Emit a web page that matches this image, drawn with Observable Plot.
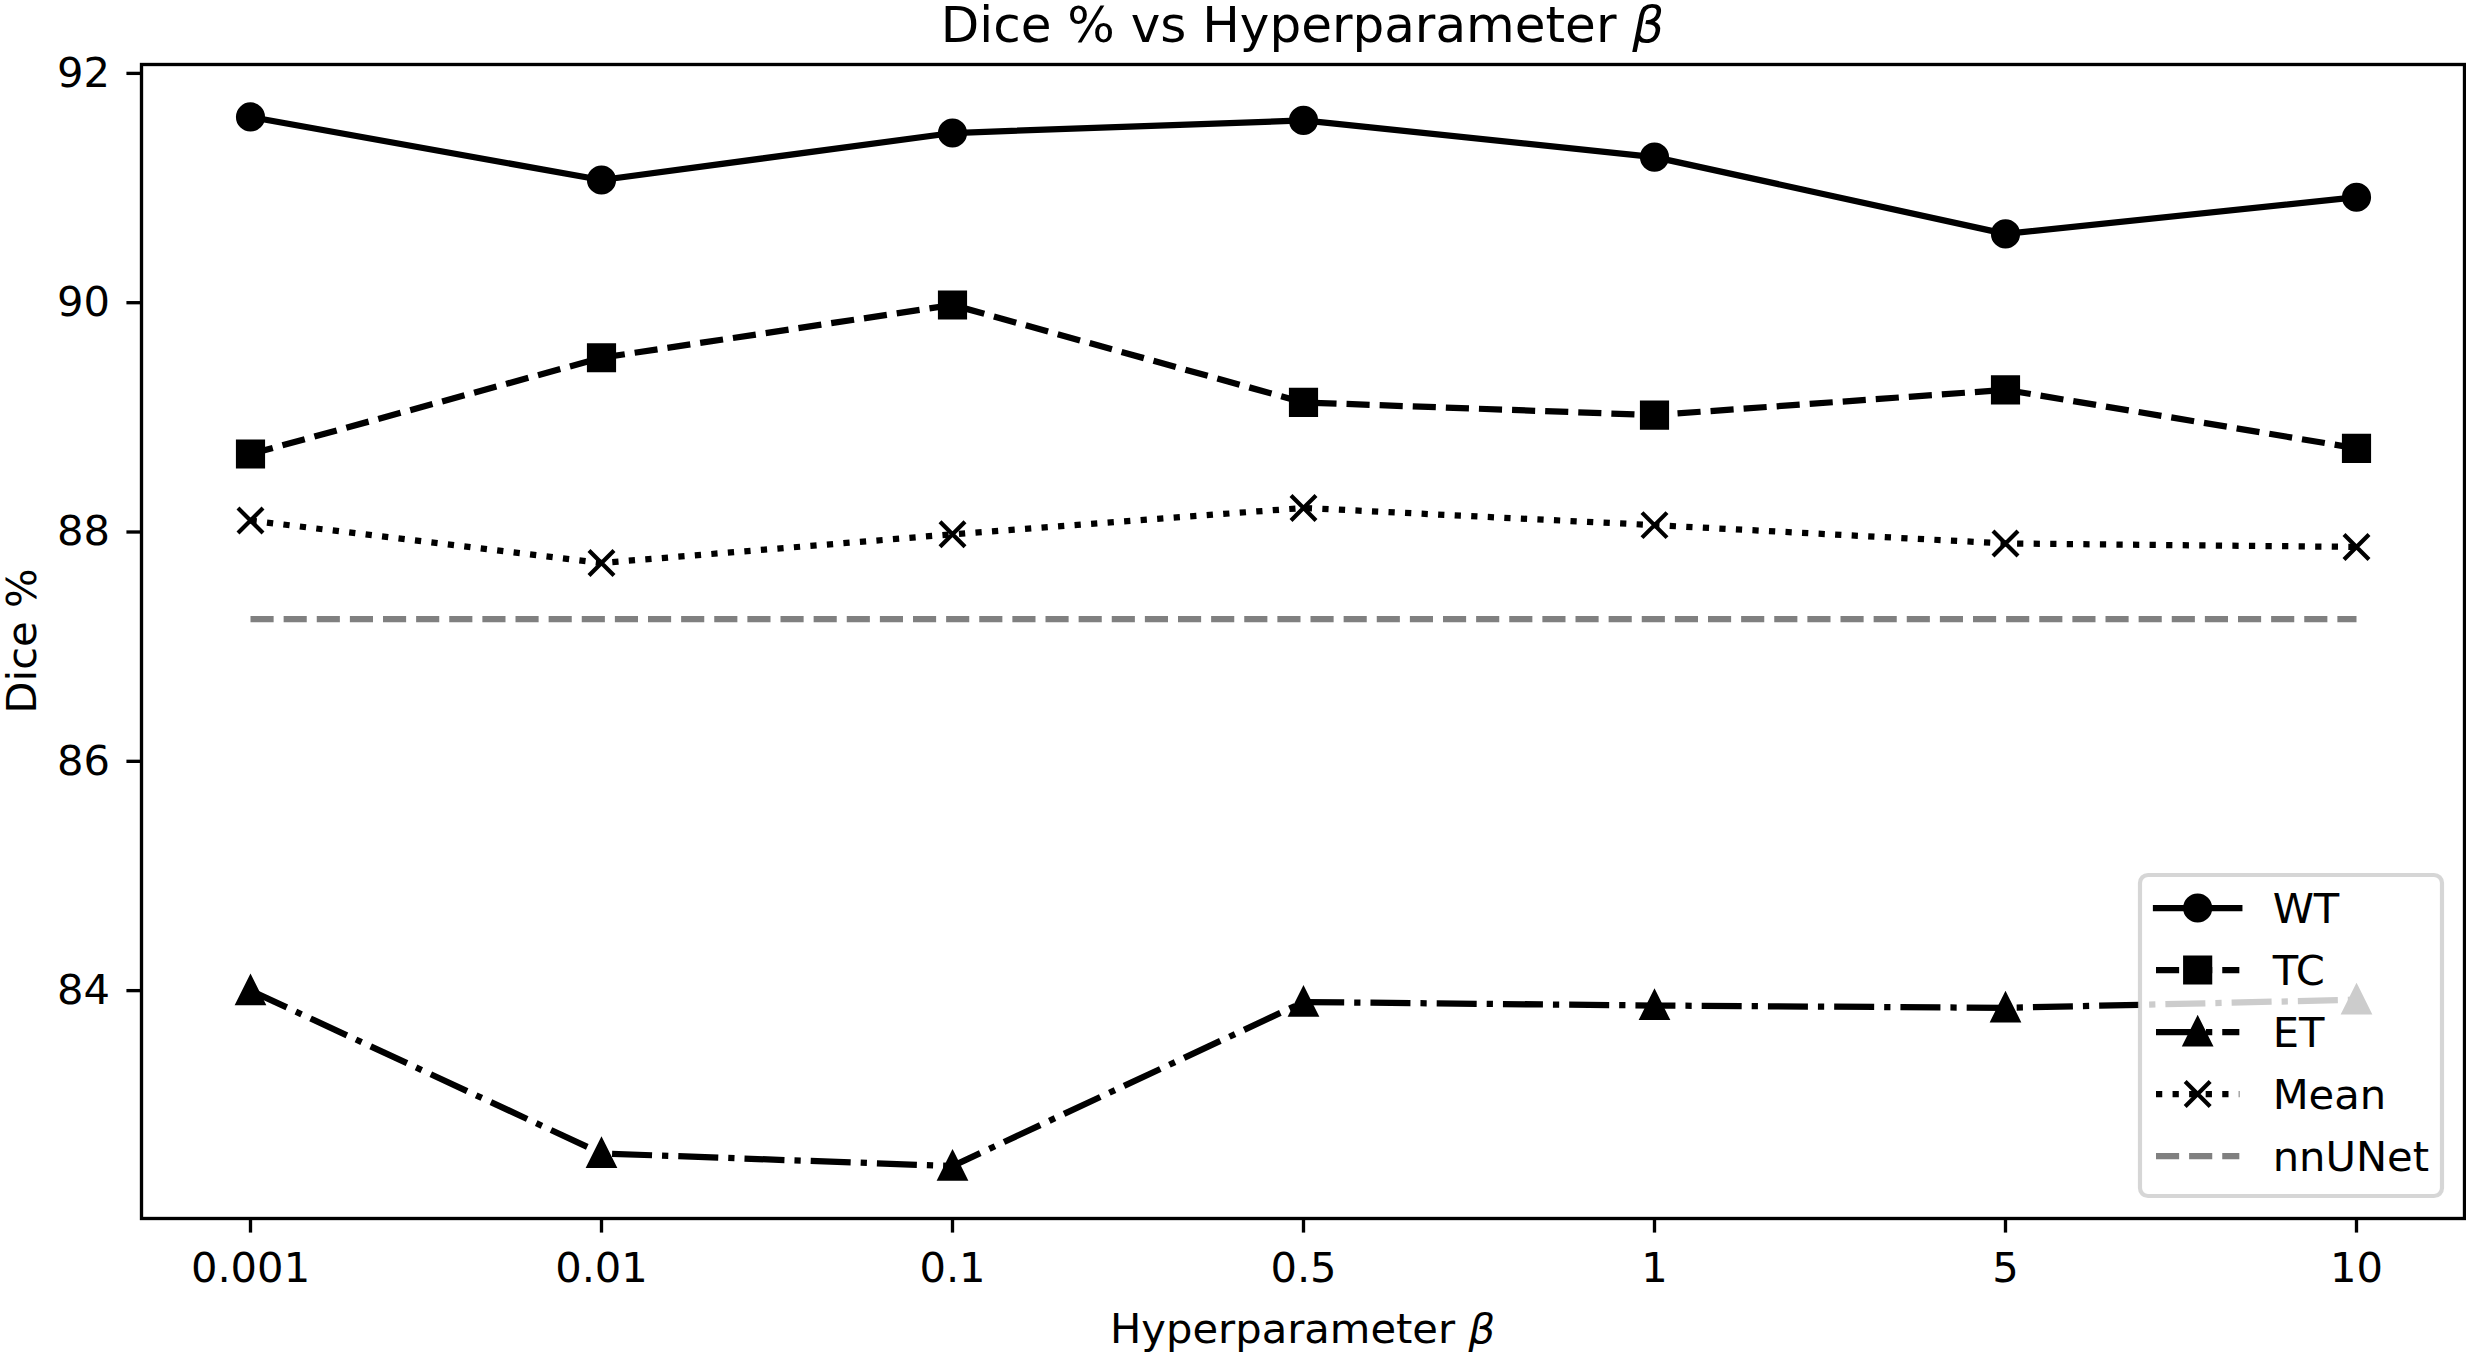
<!DOCTYPE html>
<html>
<head>
<meta charset="utf-8">
<script src="https://cdn.jsdelivr.net/npm/d3@7"></script>
<script src="https://cdn.jsdelivr.net/npm/@observablehq/plot@0.6"></script>
<style>
  html, body { margin: 0; padding: 0; background: white; overflow: hidden; }
  svg { display: block; max-width: none !important; }
</style>
</head>
<body>
<div id="chart"></div>
<script>
// ---- data ----
const betas = ["0.001", "0.01", "0.1", "0.5", "1", "5", "10"];
const wt = [91.62, 91.07, 91.48, 91.59, 91.27, 90.60, 90.92];
const tc = [88.68, 89.52, 89.98, 89.13, 89.02, 89.24, 88.73];
const et = [84.00, 82.58, 82.47, 83.90, 83.87, 83.85, 83.92];
const meanDice = [88.10, 87.73, 87.98, 88.21, 88.06, 87.90, 87.87];
const nnunet = 87.24;
const yTicks = [84, 86, 88, 90, 92];
const titleText = "Dice % vs Hyperparameter ";
const xLabelText = "Hyperparameter ";
const yLabelText = "Dice %";
const seriesNames = ["WT", "TC", "ET", "Mean", "nnUNet"];

// ---- layout / style ----
const W = 2466, H = 1353;
const PT = 300 / 72;        // px per point
const FS = 10 * PT;         // 10pt font
const TFS = 12 * PT;        // 12pt title
const LW = 1.5 * PT;        // line width
const MR = 3 * PT;          // marker half size (6pt / 2)
const MEW = 1 * PT;         // marker edge width
const AXW = 0.8 * PT;       // spine / tick width
const TICK = 3.5 * PT;      // tick length
const DASH = `${3.7 * LW},${1.6 * LW}`;
const DASHDOT = `${6.4 * LW},${1.6 * LW},${1 * LW},${1.6 * LW}`;
const DOT = `${1 * LW},${1.65 * LW}`;

const symSquare = { draw(ctx, size) { const r = Math.sqrt(size / Math.PI); ctx.rect(-r, -r, 2 * r, 2 * r); } };
const symTriangle = { draw(ctx, size) { const r = Math.sqrt(size / Math.PI); ctx.moveTo(0, -r); ctx.lineTo(r, r); ctx.lineTo(-r, r); ctx.closePath(); } };
const symTimes = { draw(ctx, size) { const r = Math.sqrt(size / Math.PI); ctx.moveTo(-r, -r); ctx.lineTo(r, r); ctx.moveTo(r, -r); ctx.lineTo(-r, r); } };
const symCircle = d3.symbolCircle;

const rows = (vals) => betas.map((b, i) => ({ beta: b, value: vals[i] }));
const allVals = [...wt, ...tc, ...et, ...meanDice, nnunet];
const lo = d3.min(allVals), hi = d3.max(allVals), pad = (hi - lo) * 0.05;

const series = [
  { name: seriesNames[0], data: rows(wt), dash: null, cap: "square", sym: symCircle, filled: true, color: "black" },
  { name: seriesNames[1], data: rows(tc), dash: DASH, cap: "butt", sym: symSquare, filled: true, color: "black" },
  { name: seriesNames[2], data: rows(et), dash: DASHDOT, cap: "butt", sym: symTriangle, filled: true, color: "black" },
  { name: seriesNames[3], data: rows(meanDice), dash: DOT, cap: "butt", sym: symTimes, filled: false, color: "black" },
  { name: seriesNames[4], data: rows(betas.map(() => nnunet)), dash: DASH, cap: "butt", sym: null, filled: false, color: "#808080" }
];

const seriesMarks = series.flatMap(s => {
  const m = [Plot.line(s.data, { x: "beta", y: "value", stroke: s.color, strokeWidth: LW,
    strokeDasharray: s.dash || undefined, strokeLinecap: s.cap, strokeLinejoin: "round" })];
  if (s.sym) m.push(Plot.dot(s.data, { x: "beta", y: "value", symbol: s.sym, r: MR,
    fill: s.filled ? s.color : "none", stroke: s.color, strokeWidth: MEW }));
  return m;
});

function legendMark(index, scales, values, dims) {
  const right = dims.width - dims.marginRight;
  const bottom = dims.height - dims.marginBottom;
  const bw = 302, bh = 321;
  const bx = right - 22 - bw, by = bottom - 22 - bh;
  const g = d3.create("svg:g");
  g.append("rect").attr("x", bx).attr("y", by).attr("width", bw).attr("height", bh)
    .attr("rx", 8).attr("ry", 8)
    .attr("fill", "white").attr("fill-opacity", 0.8)
    .attr("stroke", "#cccccc").attr("stroke-opacity", 0.8).attr("stroke-width", MEW);
  series.forEach((s, i) => {
    const cy = by + 33 + 62 * i;
    const hx0 = bx + 16, hx1 = hx0 + 2 * FS, hcx = (hx0 + hx1) / 2;
    g.append("line").attr("x1", hx0).attr("x2", hx1).attr("y1", cy).attr("y2", cy)
      .attr("stroke", s.color).attr("stroke-width", LW)
      .attr("stroke-dasharray", s.dash || null).attr("stroke-linecap", s.cap);
    if (s.sym) {
      g.append("path").attr("transform", `translate(${hcx},${cy})`)
        .attr("d", d3.symbol(s.sym, Math.PI * MR * MR)())
        .attr("fill", s.filled ? s.color : "none").attr("stroke", s.color).attr("stroke-width", MEW);
    }
    g.append("text").attr("x", hx1 + 0.8 * FS).attr("y", cy + 0.3645 * FS)
      .attr("text-anchor", "start")
      .attr("fill", "black").attr("font-size", FS).text(s.name);
  });
  return g.node();
}

function labelsMark(index, scales, values, dims) {
  const g = d3.create("svg:g").attr("fill", "black");
  const cx = (dims.marginLeft + dims.width - dims.marginRight) / 2;
  const cy = (dims.marginTop + dims.height - dims.marginBottom) / 2;
  const t = g.append("text").attr("x", cx).attr("y", 42).attr("text-anchor", "middle").attr("font-size", TFS);
  t.append("tspan").text(titleText);
  t.append("tspan").attr("font-style", "italic").text("β");
  const xl = g.append("text").attr("x", cx).attr("y", 1343).attr("text-anchor", "middle").attr("font-size", FS);
  xl.append("tspan").text(xLabelText);
  xl.append("tspan").attr("font-style", "italic").text("β");
  g.append("text").attr("transform", `translate(36,${cy}) rotate(-90)`).attr("text-anchor", "middle")
    .attr("font-size", FS).text(yLabelText);
  return g.node();
}

const chart = Plot.plot({
  width: W, height: H,
  marginTop: 64, marginBottom: 135, marginLeft: 141, marginRight: 2,
  style: { fontFamily: "'DejaVu Sans', sans-serif", fontSize: `${FS}px`, color: "black", background: "white", overflow: "visible" },
  x: { type: "point", domain: betas, padding: 0.3, label: null },
  y: { domain: [lo - pad, hi + pad], label: null },
  marks: [
    Plot.axisX({ ticks: betas, tickSize: TICK, tickPadding: 19, strokeWidth: AXW, fontSize: FS, label: null }),
    Plot.axisY({ ticks: yTicks, tickSize: TICK, tickPadding: 17, strokeWidth: AXW, fontSize: FS, label: null, tickFormat: d => String(d) }),
    ...seriesMarks,
    Plot.frame({ stroke: "black", strokeWidth: AXW }),
    legendMark,
    labelsMark
  ]
});
document.getElementById("chart").appendChild(chart);
</script>
</body>
</html>
